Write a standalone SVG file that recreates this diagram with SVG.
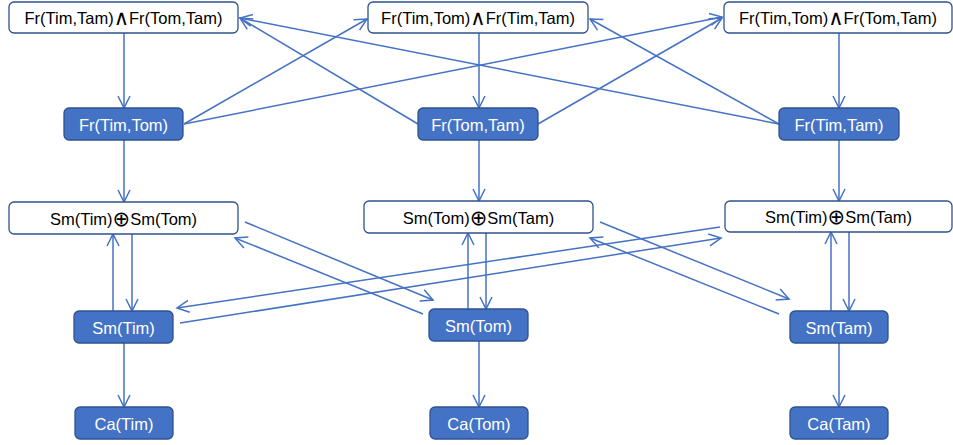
<svg xmlns="http://www.w3.org/2000/svg" width="953" height="445" viewBox="0 0 953 445">
<style>
.wb{fill:#ffffff;stroke:#2F528F;stroke-width:1.3}
.fb{fill:#4472C4;stroke:#2F528F;stroke-width:1.3}
.wt{font-family:"Liberation Sans","DejaVu Sans",sans-serif;font-size:16.5px;fill:#000;text-anchor:middle;dominant-baseline:central}
.ft{font-family:"Liberation Sans","DejaVu Sans",sans-serif;font-size:16.5px;fill:#fff;text-anchor:middle;dominant-baseline:central}
.sym{font-family:"DejaVu Sans",sans-serif;font-size:21px}
.c line{stroke:#4472C4;stroke-width:1.5;fill:none;marker-end:url(#ah)}
</style>
<defs>
<marker id="ah" markerUnits="userSpaceOnUse" markerWidth="14" markerHeight="14" refX="12" refY="6.5" orient="auto" overflow="visible">
<path d="M0,0.5 L12,6.5 L0,12.5" fill="none" stroke="#4472C4" stroke-width="1.5"/>
</marker>
</defs>
<rect width="953" height="445" fill="#ffffff"/>
<g class="c" id="connectors">
<line x1="124" y1="33" x2="124" y2="108"/>
<line x1="479" y1="33" x2="479" y2="108"/>
<line x1="839" y1="33" x2="839" y2="108"/>
<line x1="124" y1="140" x2="124" y2="202"/>
<line x1="479" y1="140" x2="479" y2="201"/>
<line x1="839" y1="140" x2="839" y2="201"/>
<line x1="113" y1="311" x2="113" y2="234"/>
<line x1="132" y1="234" x2="132" y2="311"/>
<line x1="468" y1="309" x2="468" y2="233"/>
<line x1="486" y1="233" x2="486" y2="309"/>
<line x1="831" y1="311" x2="831" y2="232"/>
<line x1="849" y1="232" x2="849" y2="311"/>
<line x1="124" y1="343" x2="124" y2="407"/>
<line x1="479" y1="341" x2="479" y2="407"/>
<line x1="839" y1="343" x2="839" y2="407"/>
<line x1="184" y1="124" x2="367" y2="19"/>
<line x1="184" y1="124" x2="722" y2="17"/>
<line x1="418" y1="124" x2="240" y2="18"/>
<line x1="538" y1="124" x2="722" y2="18"/>
<line x1="779" y1="124" x2="240" y2="18"/>
<line x1="779" y1="124" x2="590" y2="19"/>
<line x1="245" y1="222" x2="433" y2="300"/>
<line x1="423" y1="314" x2="235" y2="238"/>
<line x1="720" y1="227" x2="177" y2="308"/>
<line x1="180" y1="323" x2="721" y2="238"/>
<line x1="600" y1="222" x2="789" y2="299"/>
<line x1="779" y1="314" x2="590" y2="238"/>
</g>
<g id="n_and1"><rect class="wb" x="9" y="2" width="229" height="31" rx="5"/><text class="wt" x="123.5" y="18">Fr(Tim,Tam)<tspan class="sym">∧</tspan>Fr(Tom,Tam)</text></g>
<g id="n_and2"><rect class="wb" x="368" y="2" width="220" height="31" rx="5"/><text class="wt" x="478" y="18">Fr(Tim,Tom)<tspan class="sym">∧</tspan>Fr(Tim,Tam)</text></g>
<g id="n_and3"><rect class="wb" x="724" y="2" width="228" height="31" rx="5"/><text class="wt" x="838" y="18">Fr(Tim,Tom)<tspan class="sym">∧</tspan>Fr(Tom,Tam)</text></g>
<g id="n_fr1"><rect class="fb" x="64" y="108" width="119" height="32" rx="5"/><text class="ft" x="123.5" y="124.5">Fr(Tim,Tom)</text></g>
<g id="n_fr2"><rect class="fb" x="418" y="108" width="120" height="32" rx="5"/><text class="ft" x="478" y="124.5">Fr(Tom,Tam)</text></g>
<g id="n_fr3"><rect class="fb" x="779" y="108" width="120" height="32" rx="5"/><text class="ft" x="839" y="124.5">Fr(Tim,Tam)</text></g>
<g id="n_x1"><rect class="wb" x="9" y="202" width="229" height="32" rx="5"/><text class="wt" x="123.5" y="218.5">Sm(Tim)<tspan class="sym">⊕</tspan>Sm(Tom)</text></g>
<g id="n_x2"><rect class="wb" x="364" y="201" width="229" height="32" rx="5"/><text class="wt" x="478.5" y="217.5">Sm(Tom)<tspan class="sym">⊕</tspan>Sm(Tam)</text></g>
<g id="n_x3"><rect class="wb" x="725" y="201" width="227" height="31" rx="5"/><text class="wt" x="838.5" y="217">Sm(Tim)<tspan class="sym">⊕</tspan>Sm(Tam)</text></g>
<g id="n_sm1"><rect class="fb" x="74" y="311" width="99" height="32" rx="5"/><text class="ft" x="123.5" y="327.5">Sm(Tim)</text></g>
<g id="n_sm2"><rect class="fb" x="429" y="309" width="99" height="32" rx="5"/><text class="ft" x="478.5" y="325.5">Sm(Tom)</text></g>
<g id="n_sm3"><rect class="fb" x="790" y="311" width="98" height="32" rx="5"/><text class="ft" x="839" y="327.5">Sm(Tam)</text></g>
<g id="n_ca1"><rect class="fb" x="75" y="407" width="98" height="32" rx="5"/><text class="ft" x="124" y="423.5">Ca(Tim)</text></g>
<g id="n_ca2"><rect class="fb" x="430" y="407" width="98" height="32" rx="5"/><text class="ft" x="479" y="423.5">Ca(Tom)</text></g>
<g id="n_ca3"><rect class="fb" x="790" y="407" width="98" height="32" rx="5"/><text class="ft" x="839" y="423.5">Ca(Tam)</text></g>
</svg>
